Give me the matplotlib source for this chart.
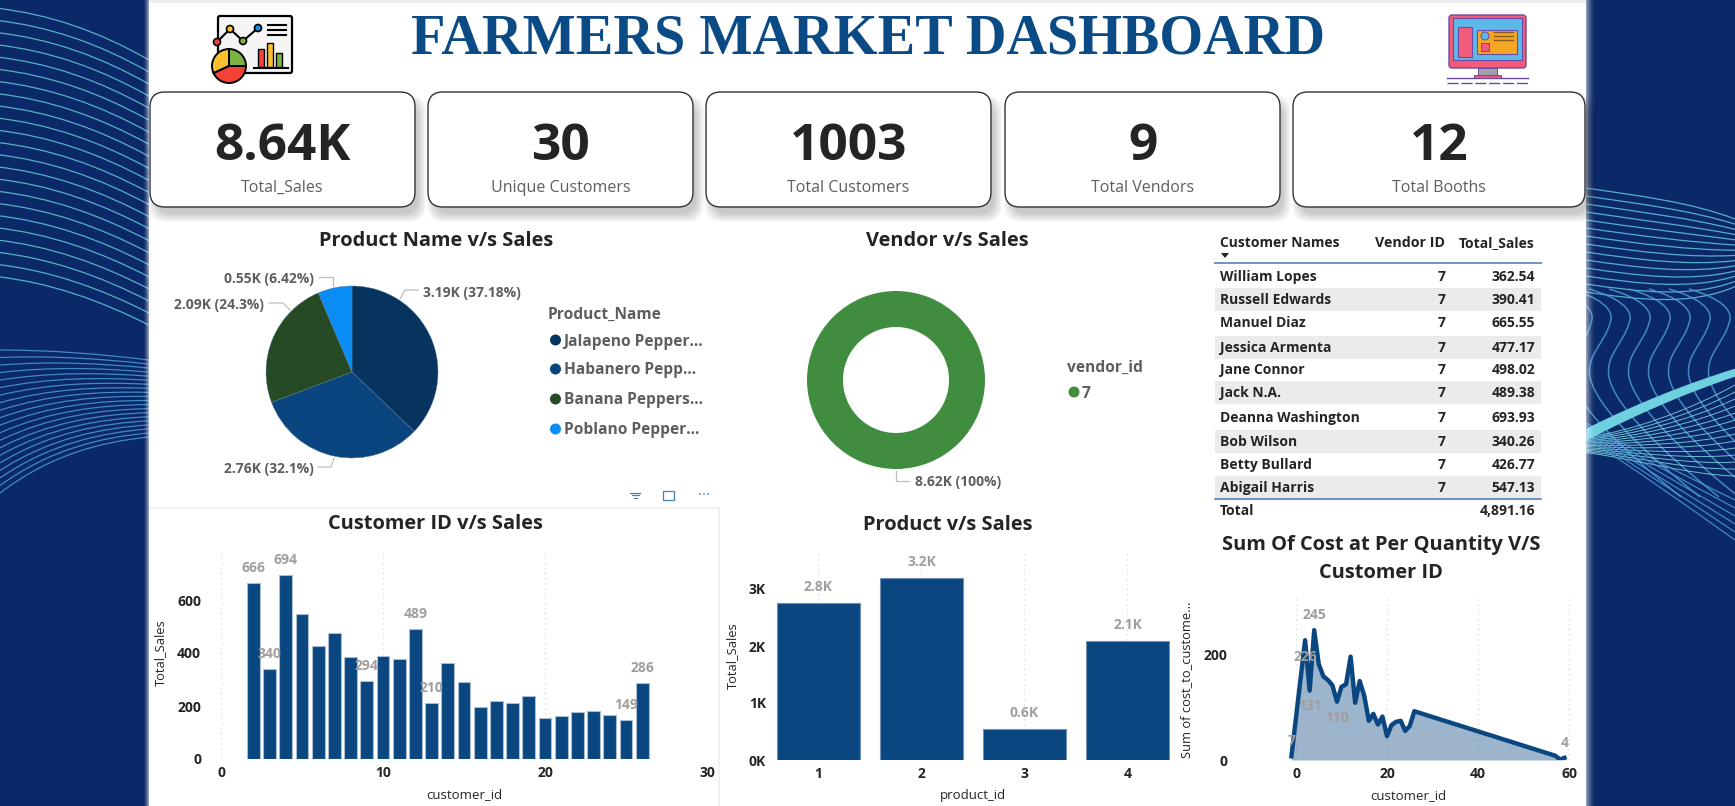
import numpy as np
import matplotlib
matplotlib.use("Agg")
import matplotlib.pyplot as plt
from matplotlib.patches import FancyBboxPatch, Rectangle, Circle, Wedge, Polygon, PathPatch
from matplotlib.path import Path

W, H = 1735, 806
plt.rcParams['font.family'] = ['Open Sans', 'DejaVu Sans']

# KPI cards
kpi_values = ["8.64K", "30", "1003", "9", "12"]
kpi_labels = ["Total_Sales", "Unique Customers", "Total Customers", "Total Vendors", "Total Booths"]

# pie / donut
product_names = ["Jalapeno Pepper...", "Habanero Pepp...", "Banana Peppers...", "Poblano Pepper..."]
product_sales = [3190, 2760, 2090, 550]
product_pct = ["37.18%", "32.1%", "24.3%", "6.42%"]
product_colors = ["#07345F", "#0A4580", "#264A24", "#0A8CF5"]
vendor_ids = ["7"]
vendor_sales = [8620]

# table
customer_names = ["William Lopes", "Russell Edwards", "Manuel Diaz", "Jessica Armenta", "Jane Connor",
                  "Jack N.A.", "Deanna Washington", "Bob Wilson", "Betty Bullard", "Abigail Harris"]
table_vendor = [7, 7, 7, 7, 7, 7, 7, 7, 7, 7]
table_sales = [362.54, 390.41, 665.55, 477.17, 498.02, 489.38, 693.93, 340.26, 426.77, 547.13]
table_total = "4,891.16"

# customer id v/s sales
cust_ids = list(range(2, 27))
cust_sales = [666, 340, 694, 547, 427, 477, 384, 294, 390, 377, 489, 210, 362, 289,
              198, 220, 213, 236, 155, 163, 179, 180, 167, 149, 286]
cust_labelled = [2, 3, 4, 9, 12, 13, 25, 26]

# product v/s sales
product_ids = [1, 2, 3, 4]
product_totals = [2760, 3190, 550, 2090]

# cost per customer
cost_ids = [-1, 2, 3, 4, 5, 6, 7, 8, 9, 10, 11, 12, 13, 14, 15, 16, 17, 18, 19, 20,
            21, 22, 23, 24, 25, 26, 57, 58, 59]
cost_vals = [7, 226, 131, 245, 181, 158, 151, 141, 110, 138, 143, 195, 108, 149, 121, 74,
             87, 67, 82, 45, 66, 72, 74, 55, 64, 92, 8, 1, 4]
cost_labels = {-1: 15, 2: -17, 3: -15, 4: 15, 9: -16, 59: 15}  # id -> pixel offset of the label

NAVY = "#0B2868"
BLUE = "#0A4780"
DARK = "#252423"
GREY = "#605E5C"
LABEL = "#A19E9C"
PX = 72 / 100  # points per pixel at dpi 100

fig = plt.figure(figsize=(W / 100, H / 100), dpi=100, facecolor=NAVY)
bg = fig.add_axes([0, 0, 1, 1])
bg.set_xlim(0, W)
bg.set_ylim(H, 0)
bg.axis("off")


def curve(pts, color, lw, alpha=0.85):
    codes = [Path.MOVETO] + [Path.CURVE4] * (len(pts) - 1)
    bg.add_patch(PathPatch(Path(pts, codes), fc="none", ec=color, lw=lw, alpha=alpha))


# background line work (decoration only)
for i in range(23):
    y0 = 8 + i * 12.2
    curve([(-5, y0), (50, y0 + 6), (100, y0 + 24), (149, y0 + 52 - i * 0.15)], "#63C6DC", 0.9)
for i in range(20):
    f = i / 19
    curve([(0, 350 + 143 * f), (50, 350 + 105 * f), (100, 354 + 88 * f), (149, 360 + 77 * f)], "#4A9BD5", 0.9)
for i in range(14):
    y0 = 188 + i * 8
    curve([(1586, y0), (1640, y0 + 8), (1690, y0 + 14), (1735, 219 + i * 5.2)], "#63C6DC", 0.9)
for ax_ in [1591, 1610, 1629, 1649, 1669, 1689, 1709, 1729]:
    ay = 323
    curve([(ax_ - 40, ay - 34), (ax_ - 12, ay - 26), (ax_ + 6, ay - 14), (ax_, ay)], "#4A9BD5", 1.1)
    curve([(ax_, ay), (ax_ - 5, ay + 20), (ax_ - 24, ay + 32), (ax_ - 20, ay + 54)], "#4A9BD5", 1.1)
    curve([(ax_ - 20, ay + 54), (ax_ - 14, ay + 84), (ax_ + 35, ay + 130), (ax_ + 90, ay + 174)], "#4A9BD5", 1.1)
for i in range(14):
    curve([(1586, 437 + i * 1.2), (1630, 432 + i * 2), (1690, 410 + i * 5), (1735, 385 + i * 7)], "#7FD8E2", 0.7)
for i in range(6):
    curve([(1586, 423 + i * 3), (1630, 448 + i * 3.5), (1690, 478 + i * 6), (1735, 500 + i * 8)], "#4A9BD5", 0.9)
band_x = np.linspace(1586, 1735, 40)
band_f = (band_x - 1586) / 149
band_top = 428 - 60 * band_f - 14 * band_f * (1 - band_f)
band_bot = 440 - 64 * band_f - 14 * band_f * (1 - band_f)
bg.fill_between(band_x, band_top, band_bot, color="#6FD0E0", lw=0)

# white panel with its soft edges
for k in range(6):
    bg.add_patch(Rectangle((149 - k - 1, 0), 1, H, fc="white", alpha=0.55 * ((6 - k) / 6) ** 2, lw=0))
for k in range(10):
    bg.add_patch(Rectangle((1586 + k, 0), 1, H, fc="white", alpha=0.55 * ((10 - k) / 10) ** 2, lw=0))
bg.add_patch(Rectangle((149, 0), 1437, H, fc="white", lw=0))
bg.add_patch(Rectangle((149, 0), 1437, 3, fc="#EDEDED", lw=0))

bg.text(868, 40, "FARMERS MARKET DASHBOARD", family="Liberation Serif", weight="bold",
        fontsize=40.5, color="#0A4A85", ha="center", va="center")

# KPI cards
card_x = [(150, 415), (428, 693), (706, 991), (1005, 1280), (1293, 1585)]
for (x0, x1), val, lab in zip(card_x, kpi_values, kpi_labels):
    for k in range(9):
        bg.add_patch(FancyBboxPatch((x0 + 7 - k, 92 + 11 - k), x1 - x0 + 2 * k - 4, 115 + 2 * k - 4,
                                    boxstyle="round,pad=0,rounding_size=16", fc="black", alpha=0.025, lw=0))
    bg.add_patch(FancyBboxPatch((x0, 92), x1 - x0, 115, boxstyle="round,pad=0,rounding_size=15",
                                fc="white", ec="#333333", lw=1))
    bg.text((x0 + x1) / 2, 147, val, fontsize=37, weight="bold", color=DARK, ha="center", va="center")
    bg.text((x0 + x1) / 2, 188, lab, fontsize=11.5, color=GREY, ha="center", va="center")

# icon, left
bg.add_patch(FancyBboxPatch((218, 16), 74, 57, boxstyle="round,pad=0,rounding_size=2", fc="#F5F5F5", ec="black", lw=1.6))
line_x, line_y = [217, 230, 243, 258], [42, 29, 41, 28]
bg.plot(line_x, line_y, color="black", lw=1.5)
for lx, ly, c in zip(line_x, line_y, ["#F44336", "#FBC02D", "#7CB342", "#1E88E5"]):
    bg.add_patch(Circle((lx, ly), 3.5, fc=c, ec="black", lw=1.2, zorder=3))
for ly in [25, 30, 35]:
    bg.plot([268, 286], [ly, ly], color="black", lw=1.5)
for bx, bh, c in [(258, 18, "#F44336"), (267, 24, "#FBC02D"), (276, 14, "#7CB342")]:
    bg.add_patch(Rectangle((bx, 67 - bh), 6, bh, fc=c, ec="black", lw=1))
bg.plot([254, 288], [68, 68], color="black", lw=1.5)
# y axis is flipped here, so the wedge angles run clockwise on screen
bg.add_patch(Wedge((229, 66), 17, 270, 360, fc="#7CB342", ec="black", lw=1.4))
bg.add_patch(Wedge((229, 66), 17, 155, 270, fc="#FBC02D", ec="black", lw=1.4))
bg.add_patch(Wedge((229, 66), 17, 0, 155, fc="#F44336", ec="black", lw=1.4))

# icon, right
bg.add_patch(FancyBboxPatch((1449, 15), 77, 53, boxstyle="round,pad=0,rounding_size=3", fc="#F25C7A", ec="#6A4CA8", lw=1))
bg.add_patch(Rectangle((1453, 18), 69, 42, fc="#5DB9E8", ec="#6A4CA8", lw=0.8))
bg.add_patch(Rectangle((1458, 27), 14, 30, fc="#F25C7A", ec="#6A4CA8", lw=0.8))
bg.add_patch(Rectangle((1477, 30), 40, 24, fc="#F5A623", ec="#6A4CA8", lw=0.8))
bg.add_patch(Rectangle((1481, 43), 8, 8, fc="#F25C7A", ec="#6A4CA8", lw=0.7))
bg.add_patch(Circle((1485, 36), 4, fc="#5DB9E8", ec="#6A4CA8", lw=0.7))
for ly in [32, 36, 40]:
    bg.plot([1494, 1513], [ly, ly], color="#8A5A20", lw=1)
bg.add_patch(Rectangle((1478, 68), 19, 8, fc="#A0A0A8", ec="#6A4CA8", lw=0.7))
bg.add_patch(Rectangle((1474, 75), 27, 3, fc="#F25C7A", ec="#6A4CA8", lw=0.7))
bg.plot([1447, 1528], [78, 78], color="#6A4CA8", lw=1)
bg.plot([1447, 1528], [83, 83], color="#6A4CA8", lw=1, ls=(0, (8, 2)))


def title(x, y, s):
    bg.text(x, y, s, fontsize=14.4, weight="bold", color=DARK, ha="center", va="center")


def leader(xs, ys):
    bg.plot(xs, ys, color="#BDBDBD", lw=0.9)


def legend_row(x, y, color, s):
    bg.add_patch(Circle((x, y), 5.5, fc=color, lw=0))
    bg.text(x + 8, y + 1.5, s, fontsize=11.2, weight="bold", color=GREY, ha="left", va="center")


def k2(v):
    return f"{v / 1000:.2f}K"


# pie
title(436, 241, "Product Name v/s Sales")
pie_ax = fig.add_axes([(352 - 86) / W, 1 - (372 + 86) / H, 172 / W, 172 / H])
pie_ax.patch.set_alpha(0)
pie_ax.pie(product_sales, colors=product_colors, startangle=90, counterclock=False, radius=1,
           wedgeprops={"lw": 0.3, "edgecolor": "#5A7A9A"})
pie_ax.set_xlim(-1, 1)
pie_ax.set_ylim(-1, 1)
pie_lab_pos = [(423, 293, "left"), (314, 469, "right"), (264, 305, "right"), (314, 279, "right")]
for (x, y, ha), v, p in zip(pie_lab_pos, product_sales, product_pct):
    bg.text(x, y, f"{k2(v)} ({p})", fontsize=10, weight="bold", color=GREY, ha=ha, va="center")
leader([400, 405, 418], [299, 290, 290])
leader([318, 331, 334], [467, 467, 458])
leader([269, 283, 290], [303, 303, 310])
leader([319, 333, 333], [277, 277, 286])
bg.text(548, 315, "Product_Name", fontsize=11.2, weight="bold", color=GREY, ha="left", va="center")
for y, c, s in zip([340, 369, 399, 429], product_colors, product_names):
    legend_row(555.5, y, c, s)

# donut
title(947, 241, "Vendor v/s Sales")
donut_ax = fig.add_axes([(896 - 89) / W, 1 - (380 + 89) / H, 178 / W, 178 / H])
donut_ax.patch.set_alpha(0)
donut_ax.pie(vendor_sales, colors=["#408D40"], startangle=90, radius=1, wedgeprops={"width": 36 / 89})
donut_ax.set_xlim(-1, 1)
donut_ax.set_ylim(-1, 1)
leader([896, 896, 909], [471, 481, 481])
bg.text(915, 482, f"{k2(vendor_sales[0])} (100%)", fontsize=10, weight="bold", color=GREY, ha="left", va="center")
bg.text(1067, 368, "vendor_id", fontsize=11.2, weight="bold", color=GREY, ha="left", va="center")
legend_row(1074, 392, "#408D40", vendor_ids[0])

# table
row_y = [277, 300, 323, 348, 370, 393, 418, 442, 465, 488]
for i, (y, name, v, s) in enumerate(zip(row_y, customer_names, table_vendor, table_sales)):
    if i % 2 == 1:
        bg.add_patch(Rectangle((1215, y - 12), 326, 23, fc="#EBEBEB", lw=0))
    bg.text(1220, y, name, fontsize=10, weight="bold", color=DARK, ha="left", va="center")
    bg.text(1446, y, str(v), fontsize=10, weight="bold", color=DARK, ha="right", va="center")
    bg.text(1535, y, f"{s:.2f}", fontsize=10, weight="bold", color=DARK, ha="right", va="center")
bg.text(1220, 243, "Customer Names", fontsize=10, weight="bold", color=DARK, ha="left", va="center")
bg.text(1445, 243, "Vendor ID", fontsize=10.3, weight="bold", color=DARK, ha="right", va="center")
bg.text(1534, 243, "Total_Sales", fontsize=10, weight="bold", color=DARK, ha="right", va="center")
bg.add_patch(Polygon([(1221, 253), (1229, 253), (1225, 258)], fc=DARK, lw=0))
bg.plot([1215, 1541], [263, 263], color="#6F93C0", lw=1.4)
bg.plot([1215, 1541], [498.5, 498.5], color="#4F81BD", lw=1.2)
bg.text(1220, 511, "Total", fontsize=10, weight="bold", color=DARK, ha="left", va="center")
bg.text(1535, 511, table_total, fontsize=10, weight="bold", color=DARK, ha="right", va="center")

# frame and header icons of the focused visual
bg.plot([150, 719, 719], [508, 508, H], color="#EFEFEF", lw=1.2)
for w_, y in zip([10, 7, 3], [492.5, 495, 497.5]):
    bg.plot([635 - w_ / 2, 635 + w_ / 2], [y, y], color="#4A7FB5", lw=0.9)
bg.add_patch(Rectangle((663, 491), 11, 9, fc="none", ec="#4A7FB5", lw=0.9))
for x in [700, 704, 708]:
    bg.add_patch(Circle((x, 494), 0.9, fc="#4A7FB5", lw=0))


def px_axes(x0, y_top, x1, y_bot):
    ax = fig.add_axes([x0 / W, 1 - y_bot / H, (x1 - x0) / W, (y_bot - y_top) / H])
    ax.patch.set_alpha(0)
    for s in ax.spines.values():
        s.set_visible(False)
    ax.grid(True, axis="x", color="#D9D9D9", lw=0.9, ls=(0, (1, 3)))
    ax.grid(False, axis="y")
    ax.set_axisbelow(True)
    return ax


def style_ticks(ax, ypad, xpad=5):
    ax.tick_params(axis="both", length=0, labelcolor=DARK)
    ax.tick_params(axis="y", pad=ypad)
    ax.tick_params(axis="x", pad=xpad)
    for t in ax.get_xticklabels() + ax.get_yticklabels():
        t.set_fontsize(10)
        t.set_fontweight("bold")


def axis_labels(ax, xlab, xpos, ylab, ypos):
    ax.set_xlabel(xlab, fontsize=9.5, color=DARK)
    ax.xaxis.set_label_coords(xpos[0], xpos[1], transform=bg.transData)
    ax.set_ylabel(ylab, fontsize=9.3, color=DARK)
    ax.yaxis.set_label_coords(ypos[0], ypos[1], transform=bg.transData)
    ax.xaxis.label.set_verticalalignment("center")
    ax.yaxis.label.set_verticalalignment("center")


def val_label(ax, x, y, s, off):
    ax.annotate(s, (x, y), xytext=(0, off * PX), textcoords="offset points", ha="center", va="center",
                fontsize=10, weight="bold", color=LABEL, zorder=6, annotation_clip=False)


# customer id v/s sales
title(435, 524, "Customer ID v/s Sales")
ax1 = px_axes(221, 552, 707, 759)
ax1.bar(cust_ids, cust_sales, width=0.8, color="#0A4780", edgecolor="#A9BCD3", lw=0.8)
ax1.set_xlim(0, 30)
ax1.set_ylim(0, 207 / 0.265)
ax1.set_xticks([0, 10, 20, 30])
ax1.set_yticks([0, 200, 400, 600])
style_ticks(ax1, 20 * PX)
axis_labels(ax1, "customer_id", (464, 795), "Total_Sales", (160, 653))
for cid in cust_labelled:
    v = cust_sales[cust_ids.index(cid)]
    val_label(ax1, cid, v, str(v), 15)

# product v/s sales
title(948, 525, "Product v/s Sales")
ax2 = px_axes(767, 553, 1180, 760)
ax2.bar(product_ids, product_totals, width=0.8, color="#0A4780", edgecolor="#6F8FB5", lw=0.8)
ax2.set_xlim(0.5, 4.51)
ax2.set_ylim(0, 207 / 0.057)
ax2.set_xticks(product_ids)
ax2.set_yticks([0, 1000, 2000, 3000])
ax2.set_yticklabels(["0K", "1K", "2K", "3K"])
style_ticks(ax2, 1 * PX)
axis_labels(ax2, "product_id", (973, 796), "Total_Sales", (732, 656))
for pid, v in zip(product_ids, product_totals):
    val_label(ax2, pid, v, f"{v / 1000:.1f}K", 16)

# cost per customer
title(1381, 545, "Sum Of Cost at Per Quantity V/S")
title(1381, 573, "Customer ID")
ax3 = px_axes(1289, 598, 1575, 760)
ax3.fill_between(cost_ids, cost_vals, color="#0A4780", alpha=0.4, lw=0)
ax3.plot(cost_ids, cost_vals, color="#0A4780", lw=3.4 * PX * 1.3, solid_joinstyle="round")
ax3.set_xlim((1289 - 1296) / 4.55, (1575 - 1296) / 4.55)
ax3.set_ylim(0, 162 / 0.53)
ax3.set_xticks([0, 20, 40, 60])
ax3.set_yticks([0, 200])
style_ticks(ax3, 62 * PX)
axis_labels(ax3, "customer_id", (1408, 796), "Sum of cost_to_custome...", (1187, 680))
for cid, off in cost_labels.items():
    val_label(ax3, cid, cost_vals[cost_ids.index(cid)], str(cost_vals[cost_ids.index(cid)]), off)

fig.savefig("out.png", dpi=100, facecolor=NAVY)
